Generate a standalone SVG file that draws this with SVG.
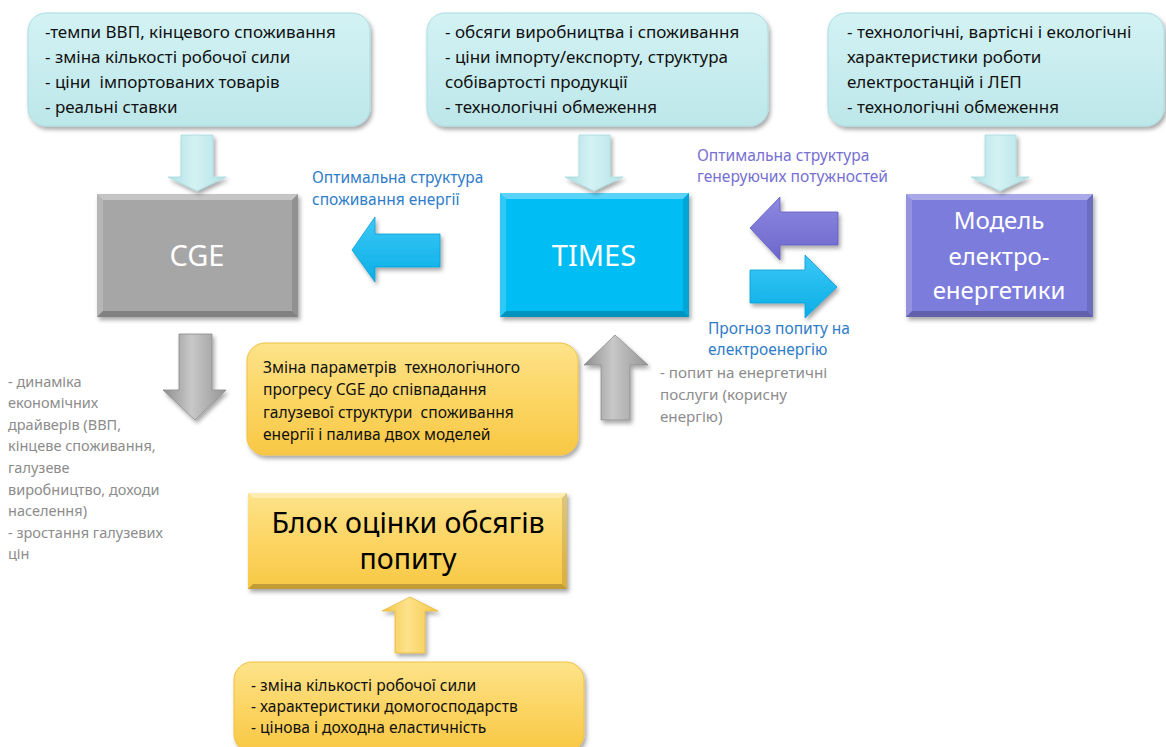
<svg xmlns="http://www.w3.org/2000/svg" width="1166" height="747" viewBox="0 0 1166 747">
<defs>
<style>
text{font-family:"Noto Sans","Open Sans","DejaVu Sans",sans-serif;white-space:pre}
.t{font-size:17px;fill:#111}
.o{font-size:15.6px;fill:#111}
.g{font-size:14.5px;fill:#8c8c8c}
.g2{font-size:15.2px;fill:#8c8c8c}
.lb{font-size:15.5px;fill:#2f7cc9}
.lp{font-size:15.6px;fill:#7670d2}
.w{fill:#fff;text-anchor:middle}
.bt{fill:#fff;opacity:.35}
.bl{fill:#fff;opacity:.18}
.bb{fill:#000;opacity:.22}
.br{fill:#000;opacity:.12}
</style>
<filter id="sh" x="-10%" y="-10%" width="125%" height="130%">
<feDropShadow dx="2" dy="3" stdDeviation="2.2" flood-color="#000" flood-opacity="0.35"/>
</filter>
<linearGradient id="gCyan" x1="0" y1="0" x2="0" y2="1"><stop offset="0" stop-color="#d3f2f4"/><stop offset="1" stop-color="#bde7ea"/></linearGradient>
<linearGradient id="gCyanA" x1="0" y1="0" x2="1" y2="0"><stop offset="0" stop-color="#aee0e5"/><stop offset="0.45" stop-color="#d4f2f4"/><stop offset="1" stop-color="#b4e3e7"/></linearGradient>
<linearGradient id="gGold" x1="0" y1="0" x2="0" y2="1"><stop offset="0" stop-color="#fde38a"/><stop offset="0.5" stop-color="#fcd564"/><stop offset="1" stop-color="#f8c844"/></linearGradient>
<linearGradient id="gGoldA" x1="0" y1="0" x2="1" y2="0"><stop offset="0" stop-color="#f2c445"/><stop offset="0.45" stop-color="#fde28a"/><stop offset="1" stop-color="#f5c84c"/></linearGradient>
<linearGradient id="gGray" x1="0" y1="0" x2="1" y2="0"><stop offset="0" stop-color="#8e8e8e"/><stop offset="0.45" stop-color="#c8c8c8"/><stop offset="1" stop-color="#969696"/></linearGradient>
<linearGradient id="gBlue" x1="0" y1="0" x2="0" y2="1"><stop offset="0" stop-color="#3cc8f6"/><stop offset="1" stop-color="#0aaee6"/></linearGradient>
<linearGradient id="gPurp" x1="0" y1="0" x2="0" y2="1"><stop offset="0" stop-color="#8d88e0"/><stop offset="1" stop-color="#6c68cc"/></linearGradient>
</defs>
<rect width="1166" height="747" fill="#fff"/>

<g id="input-cge">
<rect x="28" y="13" width="342" height="113" rx="18" fill="url(#gCyan)" stroke="#a9dde2" stroke-width="1" filter="url(#sh)"/>
<text class="t" x="45" y="38">-темпи ВВП, кінцевого споживання</text>
<text class="t" x="45" y="63">- зміна кількості робочої сили</text>
<text class="t" x="45" y="88">- ціни  імпортованих товарів</text>
<text class="t" x="45" y="113">- реальні ставки</text>
</g>

<g id="input-times">
<rect x="427" y="13" width="341" height="113" rx="18" fill="url(#gCyan)" stroke="#a9dde2" stroke-width="1" filter="url(#sh)"/>
<text class="t" x="445" y="38">- обсяги виробництва і споживання</text>
<text class="t" x="445" y="63">- ціни імпорту/експорту, структура</text>
<text class="t" x="445" y="88">собівартості продукції</text>
<text class="t" x="445" y="113">- технологічні обмеження</text>
</g>

<g id="input-power">
<rect x="828" y="13" width="336" height="113" rx="18" fill="url(#gCyan)" stroke="#a9dde2" stroke-width="1" filter="url(#sh)"/>
<text class="t" x="847" y="38">- технологічні, вартісні і екологічні</text>
<text class="t" x="847" y="63">характеристики роботи</text>
<text class="t" x="847" y="88">електростанцій і ЛЕП</text>
<text class="t" x="847" y="113">- технологічні обмеження</text>
</g>

<g id="cge">
<rect x="97" y="194" width="201" height="123" fill="#a6a6a6" filter="url(#sh)"/>
<polygon class="bt" points="97,194 298,194 292,200 103,200"/>
<polygon class="bl" points="97,194 103,200 103,311 97,317"/>
<polygon class="bb" points="97,317 103,311 292,311 298,317"/>
<polygon class="br" points="298,194 298,317 292,311 292,200"/>
<text class="w" x="197" y="266" font-size="29">CGE</text>
</g>

<g id="times">
<rect x="500" y="193" width="189" height="124" fill="#05bdf4" filter="url(#sh)"/>
<polygon class="bt" points="500,193 689,193 683,199 506,199"/>
<polygon class="bl" points="500,193 506,199 506,311 500,317"/>
<polygon class="bb" points="500,317 506,311 683,311 689,317"/>
<polygon class="br" points="689,193 689,317 683,311 683,199"/>
<text class="w" x="594" y="266" font-size="29">TIMES</text>
</g>

<g id="power-model">
<rect x="906" y="194" width="187" height="123" fill="#7c7bdc" filter="url(#sh)"/>
<polygon class="bt" points="906,194 1093,194 1087,200 912,200"/>
<polygon class="bl" points="906,194 912,200 912,311 906,317"/>
<polygon class="bb" points="906,317 912,311 1087,311 1093,317"/>
<polygon class="br" points="1093,194 1093,317 1087,311 1087,200"/>
<text class="w" x="999" y="229" font-size="24">Модель</text>
<text class="w" x="999" y="265" font-size="24">електро-</text>
<text class="w" x="999" y="299" font-size="24">енергетики</text>
</g>

<g id="calibration">
<rect x="247" y="343" width="331" height="112" rx="18" fill="url(#gGold)" stroke="#f0c040" stroke-width="1" filter="url(#sh)"/>
<text class="o" x="263" y="373">Зміна параметрів  технологічного</text>
<text class="o" x="263" y="395">прогресу CGE до співпадання</text>
<text class="o" x="263" y="418">галузевої структури  споживання</text>
<text class="o" x="263" y="440">енергії і палива двох моделей</text>
</g>

<g id="demand-block">
<rect x="248" y="493" width="319" height="96" fill="url(#gGold)" filter="url(#sh)"/>
<polygon class="bt" points="248,493 567,493 562,498 253,498"/>
<polygon class="bb" points="248,589 253,584 562,584 567,589"/>
<polygon class="br" points="567,493 567,589 562,584 562,498"/>
<text x="408" y="533" font-size="28.5" fill="#000" text-anchor="middle">Блок оцінки обсягів</text>
<text x="408" y="569" font-size="28.5" fill="#000" text-anchor="middle">попиту</text>
</g>

<g id="demand-inputs">
<rect x="234" y="662" width="350" height="90" rx="18" fill="url(#gGold)" stroke="#f0c040" stroke-width="1" filter="url(#sh)"/>
<text class="o" x="251" y="691">- зміна кількості робочої сили</text>
<text class="o" x="251" y="712">- характеристики домогосподарств</text>
<text class="o" x="251" y="733">- цінова і доходна еластичність</text>
</g>

<g id="labels">
<text class="lb" x="312" y="183">Оптимальна структура</text>
<text class="lb" x="312" y="205">споживання енергії</text>
<text class="lp" x="697" y="161">Оптимальна структура</text>
<text class="lp" x="697" y="182">генеруючих потужностей</text>
<text class="lb" x="708" y="334">Прогноз попиту на</text>
<text class="lb" x="708" y="355">електроенергію</text>
<text class="g2" x="660" y="378">- попит на енергетичні</text>
<text class="g2" x="660" y="400">послуги (корисну</text>
<text class="g2" x="660" y="422">енергію)</text>
<text class="g" x="8" y="387">- динаміка</text>
<text class="g" x="8" y="408">економічних</text>
<text class="g" x="8" y="430">драйверів (ВВП,</text>
<text class="g" x="8" y="451">кінцеве споживання,</text>
<text class="g" x="8" y="473">галузеве</text>
<text class="g" x="8" y="495">виробництво, доходи</text>
<text class="g" x="8" y="516">населення)</text>
<text class="g" x="8" y="538">- зростання галузевих</text>
<text class="g" x="8" y="559">цін</text>
</g>

<g id="connectors" filter="url(#sh)">
<polygon points="181,135 213,135 213,177 226,177 197,191 168,177 181,177" fill="url(#gCyanA)" stroke="#a6dadf" stroke-width="0.8"/>
<polygon points="579,135 610,135 610,177 623,177 594,191 565,177 579,177" fill="url(#gCyanA)" stroke="#a6dadf" stroke-width="0.8"/>
<polygon points="985,135 1016,135 1016,177 1029,177 1000,191 971,177 985,177" fill="url(#gCyanA)" stroke="#a6dadf" stroke-width="0.8"/>
<polygon points="352,250 375,217 375,234 440,234 440,267 375,267 375,282" fill="url(#gBlue)" stroke="#0a9fd6" stroke-width="0.8"/>
<polygon points="750,228 780,197 780,212 838,212 838,245 780,245 780,260" fill="url(#gPurp)" stroke="#5f5bbf" stroke-width="0.8"/>
<polygon points="750,270 805,270 805,255 837,287 805,318 805,303 750,303" fill="url(#gBlue)" stroke="#0a9fd6" stroke-width="0.8"/>
<polygon points="179,334 212,334 212,390 226,390 195,420 163,390 179,390" fill="url(#gGray)" stroke="#8a8a8a" stroke-width="0.8"/>
<polygon points="615,335 648,365 630,365 630,420 601,420 601,365 584,365" fill="url(#gGray)" stroke="#8a8a8a" stroke-width="0.8"/>
<polygon points="410,597 438,611 425,611 425,653 395,653 395,611 382,611" fill="url(#gGoldA)" stroke="#e8b838" stroke-width="0.8"/>
</g>
</svg>
